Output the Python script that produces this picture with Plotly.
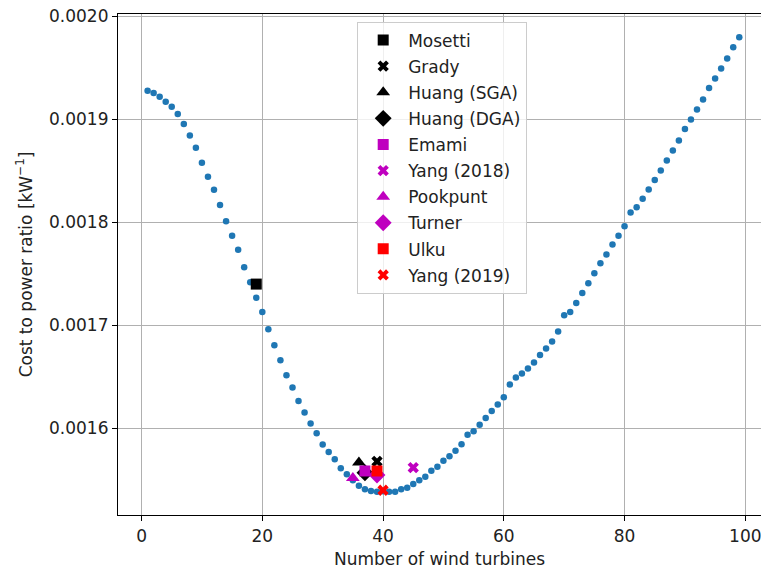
import plotly.graph_objects as go

n_turbines = list(range(1, 100))
cost_ratio = [
    0.0019275, 0.0019253, 0.0019217, 0.0019168, 0.0019120, 0.0019049, 0.0018953, 0.0018842, 0.0018723, 0.0018578,
    0.0018442, 0.0018314, 0.0018168, 0.0018010, 0.0017868, 0.0017733, 0.0017564, 0.0017419, 0.0017268, 0.0017129,
    0.0016961, 0.0016806, 0.0016661, 0.0016516, 0.0016397, 0.0016267, 0.0016155, 0.0016048, 0.0015952, 0.0015845,
    0.0015771, 0.0015700, 0.0015613, 0.0015555, 0.0015497, 0.0015443, 0.0015410, 0.0015393, 0.0015385, 0.0015390,
    0.0015386, 0.0015386, 0.0015409, 0.0015425, 0.0015461, 0.0015497, 0.0015531, 0.0015589, 0.0015628, 0.0015686,
    0.0015730, 0.0015783, 0.0015847, 0.0015938, 0.0015972, 0.0016035, 0.0016100, 0.0016168, 0.0016233, 0.0016303,
    0.0016426, 0.0016494, 0.0016532, 0.0016581, 0.0016639, 0.0016712, 0.0016774, 0.0016842, 0.0016939, 0.0017097,
    0.0017130, 0.0017216, 0.0017313, 0.0017409, 0.0017506, 0.0017603, 0.0017687, 0.0017784, 0.0017868, 0.0017961,
    0.0018095, 0.0018145, 0.0018227, 0.0018318, 0.0018410, 0.0018503, 0.0018600, 0.0018697, 0.0018794, 0.0018904,
    0.0018997, 0.0019094, 0.0019191, 0.0019301, 0.0019394, 0.0019491, 0.0019588, 0.0019698, 0.0019795,
]

study_names = ["Mosetti", "Grady", "Huang (SGA)", "Huang (DGA)", "Emami",
               "Yang (2018)", "Pookpunt", "Turner", "Ulku", "Yang (2019)"]
study_n = [19, 39, 36, 37, 37, 45, 35, 39, 39, 40]
study_ratio = [0.00174, 0.001568, 0.001567, 0.001557, 0.0015587,
               0.001562, 0.001552, 0.0015548, 0.0015587, 0.00154]
study_symbols = ["square", "x", "triangle-up", "diamond", "square",
                 "x", "triangle-up", "diamond", "square", "x"]
study_colors = ["black", "black", "black", "black", "#bf00bf",
                "#bf00bf", "#bf00bf", "#bf00bf", "#ff0000", "#ff0000"]

x_ticks = [0, 20, 40, 60, 80, 100]
y_ticks = [0.0016, 0.0017, 0.0018, 0.0019, 0.0020]

fig = go.Figure()
fig.add_trace(go.Scatter(
    x=n_turbines, y=cost_ratio, mode="markers",
    marker=dict(color="#1f77b4", size=6.5), showlegend=False,
))
for i, name in enumerate(study_names):
    sym = study_symbols[i]
    size = 11
    if sym == "triangle-up":
        size = 12
    elif sym == "diamond":
        size = 13
    elif sym == "x":
        size = 10
    fig.add_trace(go.Scatter(
        x=[study_n[i]], y=[study_ratio[i]], mode="markers", name=name,
        legendgroup="g%d" % i,
        marker=dict(symbol=sym, color=study_colors[i], size=size, line=dict(width=0)),
    ))

font = dict(family="DejaVu Sans", size=17, color="#222222")
fig.update_layout(
    width=761, height=569,
    margin=dict(l=118, r=0, t=14, b=54, autoexpand=False),
    paper_bgcolor="white", plot_bgcolor="white",
    font=font,
    legend=dict(
        x=0.372, y=0.985, xanchor="left", yanchor="top",
        bgcolor="rgba(255,255,255,0.8)", bordercolor="#cccccc", borderwidth=1,
        font=font, itemwidth=40,
        tracegroupgap=1,
    ),
)
fig.update_xaxes(
    range=[-3.9, 102.6], tickvals=x_ticks, ticktext=[str(v) for v in x_ticks],
    showgrid=True, gridcolor="#b0b0b0", gridwidth=1,
    showline=True, linecolor="black", linewidth=1.2, mirror=True,
    ticks="outside", ticklen=5, tickcolor="black", tickwidth=1,
    zeroline=False, automargin=False, ticklabeloverflow="allow",
    title=dict(text="Number of wind turbines", standoff=8, font=font),
)
fig.update_yaxes(
    range=[0.001516, 0.002002], tickvals=y_ticks,
    ticktext=["%.4f" % v for v in y_ticks],
    showgrid=True, gridcolor="#b0b0b0", gridwidth=1,
    showline=True, linecolor="black", linewidth=1.2, mirror=False,
    ticks="outside", ticklen=5, tickcolor="black", tickwidth=1,
    zeroline=False, automargin=False, ticklabeloverflow="allow",
    title=dict(text="Cost to power ratio [kW<sup>\u22121</sup>]", standoff=12, font=font),
)

fig.write_html(
    "out.html",
    config={"displayModeBar": False},
    post_script="document.body.style.margin='0';document.body.style.overflow='hidden';",
)
